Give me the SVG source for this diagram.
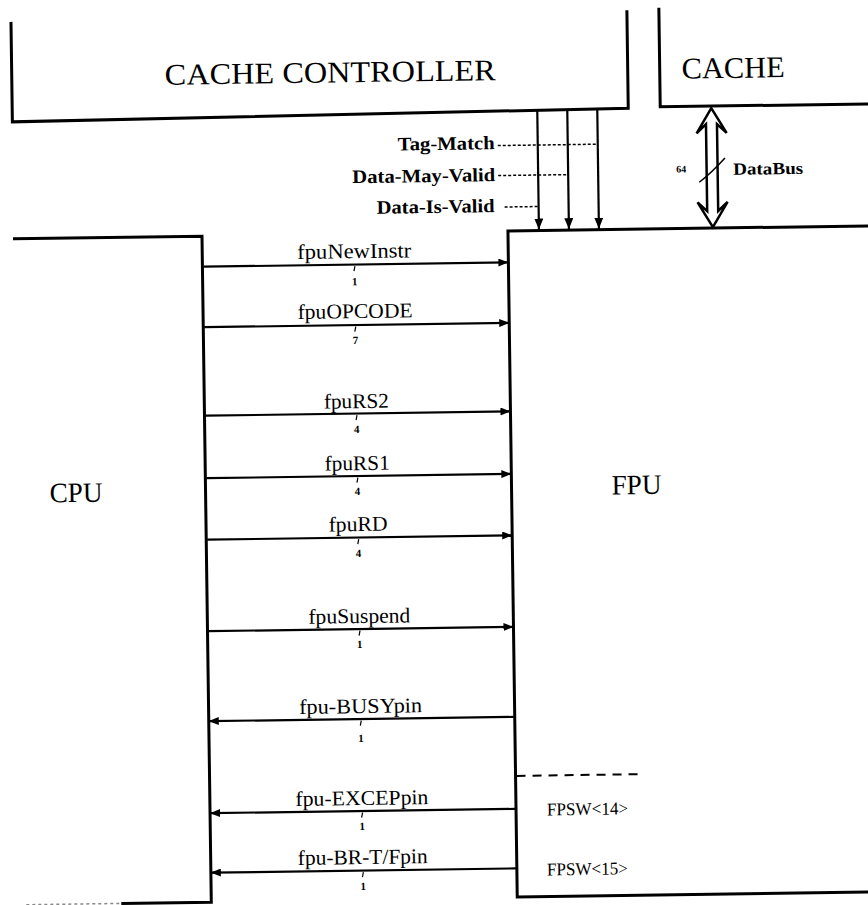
<svg xmlns="http://www.w3.org/2000/svg" width="868" height="905" viewBox="0 0 868 905">
<defs>
<style>
.box{fill:none;stroke:#000;stroke-width:3;stroke-linejoin:miter}
.sig{stroke:#000;stroke-width:2.2;fill:none}
.lbl{font-family:"Liberation Serif","Times New Roman",serif;font-size:21px;fill:#000;text-anchor:middle}
.num{font-family:"Liberation Serif","Times New Roman",serif;font-size:11px;font-weight:bold;fill:#000;text-anchor:middle}
.big{font-family:"Liberation Serif","Times New Roman",serif;font-size:30px;fill:#000}
.cl{font-family:"Liberation Serif","Times New Roman",serif;font-size:19px;font-weight:bold;fill:#000;text-anchor:end}
.fp{font-family:"Liberation Serif","Times New Roman",serif;font-size:18px;fill:#000}
.dot{stroke:#000;stroke-width:1.5;stroke-dasharray:3 2;fill:none}
.tick{stroke:#000;stroke-width:1.2}
</style>
<marker id="ah" viewBox="0 0 10 8" refX="10" refY="4" markerWidth="10" markerHeight="8" markerUnits="userSpaceOnUse" orient="auto"><path d="M0,0 L10,4 L0,8 z" fill="#000"/></marker>
<marker id="ahd" viewBox="0 0 11 9" refX="11" refY="4.5" markerWidth="11" markerHeight="9" markerUnits="userSpaceOnUse" orient="auto"><path d="M0,0 L11,4.5 L0,9 z" fill="#000"/></marker>
</defs>
<rect width="868" height="905" fill="#fff"/>
<g transform="rotate(-0.8 434 450)">
  <g id="node-cache-controller">
    <path class="box" d="M17,16 V116 L633,111 V13"/>
    <text class="big" x="170" y="81" textLength="331" lengthAdjust="spacingAndGlyphs">CACHE CONTROLLER</text>
  </g>
  <g id="node-cache">
    <path class="box" d="M665,11 V110 H880"/>
    <text class="big" x="687" y="82" textLength="103" lengthAdjust="spacingAndGlyphs">CACHE</text>
  </g>
  <g id="node-cpu">
    <path class="box" d="M16,233 H205 V899 H115"/>
    <path d="M20,899 H115" stroke="#888" stroke-width="1.5" stroke-dasharray="3 3" fill="none"/>
    <text class="big" x="49" y="497" textLength="53" lengthAdjust="spacingAndGlyphs" style="font-size:28px">CPU</text>
  </g>
  <g id="node-fpu">
    <path class="box" d="M880,232 H511 V898 H880"/>
    <text class="big" x="611" y="497" textLength="50" lengthAdjust="spacingAndGlyphs" style="font-size:28px">FPU</text>
    <path d="M512,777 H640" stroke="#000" stroke-width="2" stroke-dasharray="9 7" fill="none"/>
    <text class="fp" x="542" y="817" textLength="81" lengthAdjust="spacingAndGlyphs">FPSW&lt;14&gt;</text>
    <text class="fp" x="541" y="877" textLength="81" lengthAdjust="spacingAndGlyphs">FPSW&lt;15&gt;</text>
  </g>
  <g id="connectors">
    <path class="sig" d="M542,112 V231" marker-end="url(#ahd)"/>
    <path class="sig" d="M572,112 V231" marker-end="url(#ahd)"/>
    <path class="sig" d="M602,112 V231" marker-end="url(#ahd)"/>
    <path class="dot" d="M502,146.5 H602"/>
    <path class="dot" d="M502,176.5 H572"/>
    <path class="dot" d="M508,208 H542"/>
    <text class="cl" x="499" y="150" textLength="97" lengthAdjust="spacingAndGlyphs">Tag-Match</text>
    <text class="cl" x="499" y="182" textLength="143" lengthAdjust="spacingAndGlyphs">Data-May-Valid</text>
    <text class="cl" x="498" y="213" textLength="118" lengthAdjust="spacingAndGlyphs">Data-Is-Valid</text>
    <path d="M716,112 L731,137 L721.5,128 V215 L731,206 L716,231 L701,206 L710.5,215 V128 L701,137 Z" fill="#fff" stroke="#000" stroke-width="2.5" stroke-linejoin="miter"/>
    <path d="M703,186 Q716,176 729,162" stroke="#000" stroke-width="1.5" fill="none"/>
    <text x="680" y="176" style="font-family:'Liberation Serif',serif;font-size:10px;font-weight:bold">64</text>
    <text x="737" y="179" textLength="70" lengthAdjust="spacingAndGlyphs" style="font-family:'Liberation Serif',serif;font-size:17px;font-weight:bold">DataBus</text>

    <path class="sig" d="M206,263.5 H511" marker-end="url(#ah)"/>
    <text class="lbl" x="357" y="257" textLength="114" lengthAdjust="spacingAndGlyphs">fpuNewInstr</text>
    <line class="tick" x1="357.5" y1="265" x2="356.5" y2="270"/>
    <text class="num" x="357" y="284">1</text>

    <path class="sig" d="M206,324 H511" marker-end="url(#ah)"/>
    <text class="lbl" x="357" y="317" textLength="115" lengthAdjust="spacingAndGlyphs">fpuOPCODE</text>
    <line class="tick" x1="357.5" y1="325.5" x2="356.5" y2="330.5"/>
    <text class="num" x="357" y="343">7</text>

    <path class="sig" d="M206,412.5 H511" marker-end="url(#ah)"/>
    <text class="lbl" x="357" y="407" textLength="65" lengthAdjust="spacingAndGlyphs">fpuRS2</text>
    <line class="tick" x1="357.5" y1="414" x2="356.5" y2="419"/>
    <text class="num" x="357" y="432">4</text>

    <path class="sig" d="M206,475 H511" marker-end="url(#ah)"/>
    <text class="lbl" x="357" y="469" textLength="65" lengthAdjust="spacingAndGlyphs">fpuRS1</text>
    <line class="tick" x1="357.5" y1="476.5" x2="356.5" y2="481.5"/>
    <text class="num" x="357" y="494">4</text>

    <path class="sig" d="M206,536.5 H511" marker-end="url(#ah)"/>
    <text class="lbl" x="357" y="530" textLength="59" lengthAdjust="spacingAndGlyphs">fpuRD</text>
    <line class="tick" x1="357.5" y1="538" x2="356.5" y2="543"/>
    <text class="num" x="357" y="556">4</text>

    <path class="sig" d="M206,628 H511" marker-end="url(#ah)"/>
    <text class="lbl" x="357" y="622" textLength="102" lengthAdjust="spacingAndGlyphs">fpuSuspend</text>
    <line class="tick" x1="357.5" y1="629.5" x2="356.5" y2="634.5"/>
    <text class="num" x="357" y="647">1</text>

    <path class="sig" d="M510,718 H205" marker-end="url(#ah)"/>
    <text class="lbl" x="357" y="712" textLength="123" lengthAdjust="spacingAndGlyphs">fpu-BUSYpin</text>
    <line class="tick" x1="357.5" y1="719.5" x2="356.5" y2="724.5"/>
    <text class="num" x="357" y="741">1</text>

    <path class="sig" d="M510,810 H205" marker-end="url(#ah)"/>
    <text class="lbl" x="357" y="804" textLength="133" lengthAdjust="spacingAndGlyphs">fpu-EXCEPpin</text>
    <line class="tick" x1="357.5" y1="811.5" x2="356.5" y2="816.5"/>
    <text class="num" x="357" y="829">1</text>

    <path class="sig" d="M510,869.5 H205" marker-end="url(#ah)"/>
    <text class="lbl" x="357" y="863" textLength="130" lengthAdjust="spacingAndGlyphs">fpu-BR-T/Fpin</text>
    <line class="tick" x1="357.5" y1="871" x2="356.5" y2="876"/>
    <text class="num" x="357" y="889">1</text>
  </g>
</g>
</svg>
